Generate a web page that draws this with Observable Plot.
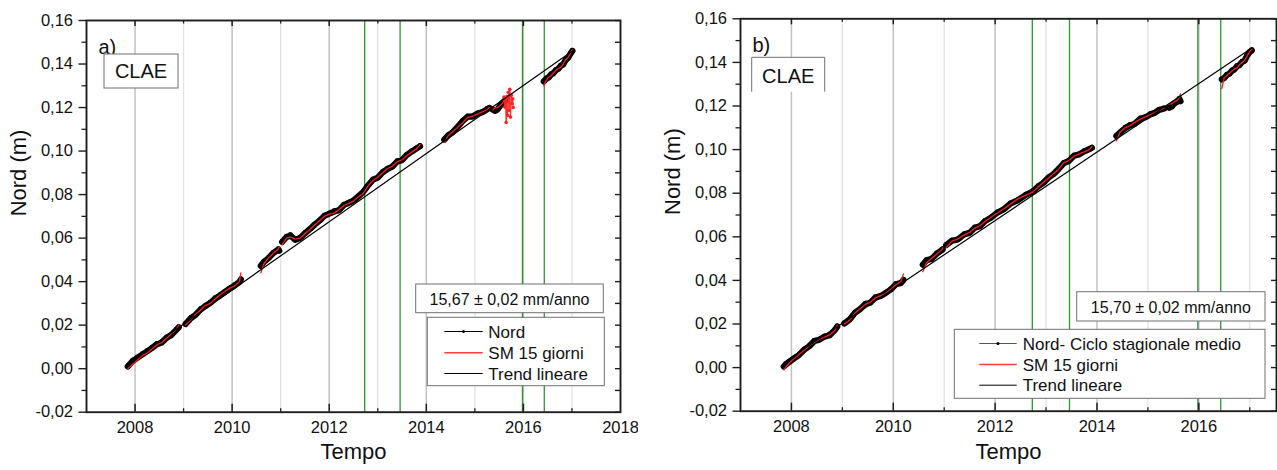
<!DOCTYPE html>
<html>
<head>
<meta charset="utf-8">
<script src="https://cdn.jsdelivr.net/npm/d3@7"></script>
<script src="https://cdn.jsdelivr.net/npm/@observablehq/plot@0.6"></script>
<style>
  body { margin: 0; background: #fff; font-family: "Liberation Sans", Arial, sans-serif; }
  #wrap { position: relative; width: 1277px; height: 470px; overflow: hidden; background: #fff; }
  .panel { position: absolute; top: 0; height: 470px; }
  #overlay { position: absolute; left: 0; top: 0; pointer-events: none; }
</style>
</head>
<body>
<div id="wrap">
  <div class="panel" id="pa" style="left:0;width:638px"></div>
  <div class="panel" id="pb" style="left:640px;width:637px"></div>
</div>
<script>
// ---------------- DATA ----------------
const greenYears = [2012.73, 2013.46, 2015.98, 2016.43];

// Panel a) : Nord (black), SM 15 giorni (red); null = gap in the record
const tA = [
  2007.85,2007.95,2008.05,2008.15,2008.25,2008.35,2008.45,2008.55,2008.65,2008.75,2008.85,2008.90,
  2008.97,
  2009.04,2009.15,2009.25,2009.35,2009.45,2009.55,2009.65,2009.75,2009.85,2009.95,2010.05,2010.15,2010.18,
  2010.40,
  2010.59,2010.65,2010.75,2010.85,2010.95,2010.97,
  2011.00,
  2011.03,2011.12,2011.20,2011.30,2011.40,2011.50,2011.60,2011.70,2011.80,2011.90,
  2012.00,2012.10,2012.20,2012.30,2012.40,2012.50,2012.60,2012.70,2012.80,2012.90,
  2013.00,2013.10,2013.20,2013.30,2013.40,2013.50,2013.60,2013.70,2013.80,2013.87,
  2014.10,
  2014.37,2014.45,2014.55,2014.65,2014.75,2014.85,2014.95,2015.05,2015.15,2015.25,2015.30,
  2015.33,
  2015.37,2015.42,2015.47,2015.52,2015.57,2015.62,
  2016.00,
  2016.42,2016.47,2016.52,2016.57,2016.62,2016.67,2016.72,2016.77,2016.82,2016.87,2016.92,2016.97,2017.01
];
const nordA = [
  0.0010,0.0035,0.0050,0.0065,0.0080,0.0095,0.0112,0.0120,0.0142,0.0155,0.0178,0.0190,
  null,
  0.0205,0.0232,0.0248,0.0272,0.0288,0.0302,0.0323,0.0336,0.0352,0.0368,0.0382,0.0398,0.0410,
  null,
  0.0472,0.0490,0.0508,0.0532,0.0548,0.0542,
  null,
  0.0582,0.0605,0.0612,0.0592,0.0601,0.0622,0.0641,0.0662,0.0680,0.0702,
  0.0712,0.0722,0.0728,0.0752,0.0762,0.0772,0.0792,0.0812,0.0842,0.0868,
  0.0878,0.0902,0.0918,0.0928,0.0952,0.0958,0.0982,0.0998,0.1012,0.1022,
  null,
  0.1052,0.1072,0.1088,0.1112,0.1138,0.1158,0.1158,0.1172,0.1178,0.1192,0.1198,
  null,
  0.1190,0.1185,0.1192,0.1208,0.1222,0.1232,
  null,
  0.1320,0.1332,0.1338,0.1352,0.1358,0.1372,0.1378,0.1392,0.1398,0.1418,0.1428,0.1448,0.1460
];
const smA = [
  0.0000,0.0020,0.0040,0.0060,0.0072,0.0090,0.0110,0.0120,0.0140,0.0160,0.0180,0.0200,
  null,
  0.0200,0.0225,0.0250,0.0270,0.0290,0.0300,0.0320,0.0340,0.0355,0.0370,0.0380,0.0400,0.0440,
  null,
  0.0440,0.0480,0.0510,0.0530,0.0550,0.0560,
  null,
  0.0570,0.0600,0.0605,0.0595,0.0600,0.0620,0.0640,0.0660,0.0680,0.0700,
  0.0710,0.0715,0.0730,0.0750,0.0760,0.0770,0.0790,0.0805,0.0840,0.0865,
  0.0880,0.0900,0.0920,0.0930,0.0950,0.0960,0.0980,0.0995,0.1010,0.1030,
  null,
  0.1040,0.1070,0.1090,0.1110,0.1130,0.1155,0.1160,0.1170,0.1180,0.1190,0.1200,
  null,
  0.1190,0.1200,0.1200,0.1210,0.1220,0.1240,
  null,
  0.1300,0.1325,0.1340,0.1345,0.1360,0.1370,0.1380,0.1385,0.1400,0.1420,0.1430,0.1450,0.1465
];
// scattered SM values late 2015 (panel a)
const clusterA_t = [2015.600,2015.615,2015.630,2015.645,2015.660,2015.675,2015.690,2015.705,2015.720,2015.735,2015.750,2015.765,2015.780,2015.790];
const clusterA_v = [0.1248,0.1202,0.1233,0.1131,0.1250,0.1164,0.1270,0.1187,0.1284,0.1156,0.1256,0.1218,0.1240,0.1200];
const trendA_t = [2007.85, 2017.01];
const trendA_v = [0.0025, 0.1460];

// Panel b) : Nord - Ciclo stagionale medio
const tB = [
  2007.85,2007.95,2008.05,2008.15,2008.25,2008.35,2008.45,2008.55,2008.65,2008.75,2008.85,2008.90,
  2008.97,
  2009.04,2009.15,2009.25,2009.35,2009.45,2009.55,2009.65,2009.75,2009.85,2009.95,2010.05,2010.15,2010.20,
  2010.40,
  2010.58,2010.65,2010.75,2010.85,2010.95,2010.97,
  2011.00,
  2011.04,2011.15,2011.27,2011.40,2011.50,2011.60,2011.70,2011.80,2011.92,2012.05,2012.18,2012.30,2012.45,
  2012.60,2012.74,2012.85,2012.95,2013.05,2013.15,2013.25,2013.35,2013.45,2013.55,2013.65,2013.75,2013.85,2013.90,
  2014.10,
  2014.38,2014.45,2014.55,2014.65,2014.74,2014.85,2014.95,2015.05,2015.13,2015.22,2015.32,
  2015.37,
  2015.42,2015.47,2015.52,2015.57,2015.62,2015.64,
  2016.00,
  2016.45,2016.50,2016.55,2016.60,2016.65,2016.70,2016.75,2016.80,2016.85,2016.90,2016.95,2017.00,2017.04
];
const nordB = [
  0.0005,0.0025,0.0042,0.0058,0.0082,0.0098,0.0122,0.0128,0.0142,0.0148,0.0172,0.0188,
  null,
  0.0202,0.0222,0.0252,0.0268,0.0292,0.0298,0.0322,0.0328,0.0342,0.0358,0.0382,0.0388,0.0402,
  null,
  0.0472,0.0492,0.0498,0.0522,0.0538,0.0542,
  null,
  0.0562,0.0582,0.0588,0.0612,0.0618,0.0642,0.0648,0.0672,0.0688,0.0712,0.0728,0.0752,0.0768,
  0.0792,0.0808,0.0832,0.0848,0.0872,0.0888,0.0912,0.0938,0.0948,0.0972,0.0978,0.0992,0.1002,0.1008,
  null,
  0.1062,0.1078,0.1098,0.1112,0.1118,0.1142,0.1148,0.1162,0.1168,0.1182,0.1188,
  null,
  0.1192,0.1198,0.1212,0.1218,0.1232,0.1222,
  null,
  0.1322,0.1328,0.1342,0.1348,0.1362,0.1368,0.1382,0.1388,0.1402,0.1408,0.1432,0.1448,0.1455
];
const smB = [
  -0.0010,0.0020,0.0040,0.0060,0.0080,0.0100,0.0115,0.0130,0.0140,0.0150,0.0170,0.0195,
  null,
  0.0200,0.0220,0.0250,0.0270,0.0290,0.0300,0.0320,0.0330,0.0340,0.0360,0.0380,0.0395,0.0430,
  null,
  0.0440,0.0480,0.0500,0.0520,0.0540,0.0550,
  null,
  0.0550,0.0580,0.0590,0.0610,0.0620,0.0640,0.0650,0.0670,0.0690,0.0710,0.0730,0.0750,0.0775,
  0.0790,0.0805,0.0830,0.0850,0.0870,0.0890,0.0910,0.0940,0.0950,0.0970,0.0980,0.0990,0.1000,0.1015,
  null,
  0.1040,0.1080,0.1100,0.1110,0.1125,0.1140,0.1150,0.1160,0.1170,0.1180,0.1190,
  null,
  0.1210,0.1210,0.1220,0.1225,0.1240,0.1256,
  null,
  0.1280,0.1330,0.1340,0.1350,0.1360,0.1370,0.1375,0.1390,0.1400,0.1410,0.1430,0.1450,0.1460
];
const trendB_t = [2007.85, 2017.04];
const trendB_v = [0.0023, 0.1466];

const yMajorTicks = [-0.02,0,0.02,0.04,0.06,0.08,0.10,0.12,0.14,0.16];
const yMinorTicks = [-0.01,0.01,0.03,0.05,0.07,0.09,0.11,0.13,0.15];
const xLabelsA = [2008,2010,2012,2014,2016,2018];
const xLabelsB = [2008,2010,2012,2014,2016];
const majorYears = [2008,2010,2012,2014,2016];
const minorYears = [2009,2011,2013,2015,2017];

const rateA = "15,67 \u00B1 0,02 mm/anno";
const rateB = "15,70 \u00B1 0,02 mm/anno";
const legendA = ["Nord", "SM 15 giorni", "Trend lineare"];
const legendB = ["Nord- Ciclo stagionale medio", "SM 15 giorni", "Trend lineare"];

// ---------------- DRAW ----------------
const FONT = "'Liberation Sans', Arial, sans-serif";
const fmtY = d => (d < 0 ? "-" : "") + Math.abs(d).toFixed(2).replace(".", ",");

function makePanel(cfg) {
  const innerH = cfg.height - cfg.mt - cfg.mb;
  const innerW = cfg.width - cfg.ml - cfg.mr;
  const rows = cfg.t.map((t, i) => ({t, nord: cfg.nord[i], sm: cfg.sm[i]}));
  const trend = cfg.trendT.map((t, i) => ({t, v: cfg.trendV[i]}));
  const cluster = (cfg.clusterT || []).map((t, i) => ({t, v: cfg.clusterV[i]}));
  const axisStroke = "#1e1e1e";
  return Plot.plot({
    width: cfg.width, height: cfg.height,
    marginLeft: cfg.ml, marginRight: cfg.mr, marginTop: cfg.mt, marginBottom: cfg.mb,
    x: {domain: cfg.xDomain, label: null},
    y: {domain: [-0.02, 0.16], label: null},
    style: {fontFamily: FONT, fontSize: "16.5px", color: "#111", background: "#fff"},
    marks: [
      Plot.ruleX(minorYears, {stroke: "#e2e2e2", strokeWidth: 1.3}),
      Plot.ruleX(majorYears, {stroke: "#c2c2c2", strokeWidth: 1.5}),
      Plot.ruleX(greenYears, {stroke: "#2f962f", strokeWidth: 1.3}),
      Plot.line(rows, {x: "t", y: "nord", stroke: "#000", strokeWidth: 6.2, strokeLinejoin: "round", strokeLinecap: "round"}),
      Plot.dot(rows, {x: "t", y: "nord", r: 2.4, fill: "#000", dy: -0.8}),
      Plot.line(rows, {x: "t", y: "sm", stroke: "#ff1a1a", strokeWidth: 1.3}),
      Plot.line(cluster, {x: "t", y: "v", stroke: "#ff2020", strokeWidth: 1}),
      Plot.dot(cluster, {x: "t", y: "v", r: 1.8, fill: "#ff2020"}),
      Plot.line(trend, {x: "t", y: "v", stroke: "#000", strokeWidth: 1.2}),
      // inward ticks bottom / top / right
      Plot.ruleX(majorYears, {insetTop: innerH - 8, stroke: axisStroke, strokeWidth: 1.5}),
      Plot.ruleX(minorYears, {insetTop: innerH - 3.5, stroke: axisStroke, strokeWidth: 1.3}),
      Plot.ruleX(majorYears, {insetBottom: innerH - 6, stroke: axisStroke, strokeWidth: 1.5}),
      Plot.ruleX(minorYears, {insetBottom: innerH - 3.5, stroke: axisStroke, strokeWidth: 1.3}),
      Plot.ruleY(yMajorTicks.concat(yMinorTicks), {insetLeft: innerW - 5, stroke: axisStroke, strokeWidth: 1.4}),
      // left axis (outward ticks)
      Plot.axisY({ticks: yMajorTicks, tickSize: 7.5, tickPadding: 6, tickFormat: fmtY, stroke: axisStroke, strokeWidth: 1.4, fontSize: 16.5, label: null}),
      Plot.axisY({ticks: yMinorTicks, tickSize: 4.5, tickFormat: () => "", stroke: axisStroke, strokeWidth: 1.3, label: null}),
      Plot.axisX({ticks: cfg.xLabels, tickSize: 0, tickPadding: 9, tickFormat: d => String(d), fontSize: 16.5, label: null}),
      Plot.frame({stroke: axisStroke, strokeWidth: 1.9}),
      Plot.text(["Nord (m)"], {frameAnchor: "left", dx: -68, rotate: -90, fontSize: 22, fill: "#111"}),
      Plot.text(["Tempo"], {frameAnchor: "bottom", dy: cfg.tempoDy, fontSize: 22, fill: "#111"}),
      Plot.text([cfg.tag], {frameAnchor: "top-left", dx: 12, dy: 19, textAnchor: "start", fontSize: 20, fill: "#111"})
    ]
  });
}

document.getElementById("pa").appendChild(makePanel({
  width: 638, height: 470, ml: 86, mr: 18, mt: 20, mb: 58.3,
  xDomain: [2007, 2018], xLabels: xLabelsA, tag: "a)", tempoDy: 46.5,
  t: tA, nord: nordA, sm: smA, trendT: trendA_t, trendV: trendA_v,
  clusterT: clusterA_t, clusterV: clusterA_v
}));
document.getElementById("pb").appendChild(makePanel({
  width: 637, height: 470, ml: 100, mr: 1, mt: 18.3, mb: 59.3,
  xDomain: [2007, 2017.525], xLabels: xLabelsB, tag: "b)", tempoDy: 47.6,
  t: tB, nord: nordB, sm: smB, trendT: trendB_t, trendV: trendB_v
}));

// ---------------- ANNOTATIONS (boxes, legends) ----------------
const ov = d3.select("#wrap").append("svg").attr("id", "overlay")
  .attr("width", 1277).attr("height", 470)
  .style("font-family", FONT);

function textBox(x, y, w, h, label, fs, cy, sides) {
  const g = ov.append("g");
  g.append("rect").attr("x", x).attr("y", y).attr("width", w).attr("height", h)
    .attr("fill", "#fff").attr("stroke", sides ? "none" : "#707070").attr("stroke-width", 1);
  if (sides) {
    g.append("path").attr("d", `M${x},${y + h}V${y}H${x + w}V${y + h}`)
      .attr("fill", "none").attr("stroke", "#707070").attr("stroke-width", 1);
  }
  g.append("text").attr("x", x + w / 2).attr("y", cy + 0.358 * fs)
    .attr("text-anchor", "middle").attr("font-size", fs).attr("fill", "#111").text(label);
}

function legendBox(x, y, w, h, labels, sx1, sx2, tx, rowsY, nordColor) {
  const g = ov.append("g");
  g.append("rect").attr("x", x).attr("y", y).attr("width", w).attr("height", h)
    .attr("fill", "#fff").attr("stroke", "#707070").attr("stroke-width", 1);
  const colors = [nordColor, "#ff3b3b", "#000"];
  labels.forEach((lab, i) => {
    const cy = rowsY[i];
    g.append("line").attr("x1", sx1).attr("x2", sx2).attr("y1", cy).attr("y2", cy)
      .attr("stroke", colors[i]).attr("stroke-width", i === 1 ? 1.6 : 1);
    if (i === 0) g.append("circle").attr("cx", (sx1 + sx2) / 2).attr("cy", cy).attr("r", 1.5).attr("fill", "#000");
    g.append("text").attr("x", tx).attr("y", cy + 0.358 * 17).attr("font-size", 17).attr("fill", "#111").text(lab);
  });
}

// panel a
textBox(104, 54, 74, 34, "CLAE", 20, 71.3, false);
textBox(415.7, 284, 187.6, 28.7, rateA, 16, 299.2, false);
legendBox(427.3, 317.3, 177, 68.4, legendA, 444.3, 482.7, 488.3, [331.5, 352.8, 373.5], "#000");
// panel b
textBox(751.7, 57.3, 73, 34.4, "CLAE", 20, 75.5, true);
textBox(1076.7, 291.7, 188.3, 29.3, rateB, 16, 307.2, false);
legendBox(954.3, 329.3, 310.7, 69, legendB, 979.3, 1016.7, 1022.7, [343.5, 364.5, 385.2], "#555");
</script>
</body>
</html>
